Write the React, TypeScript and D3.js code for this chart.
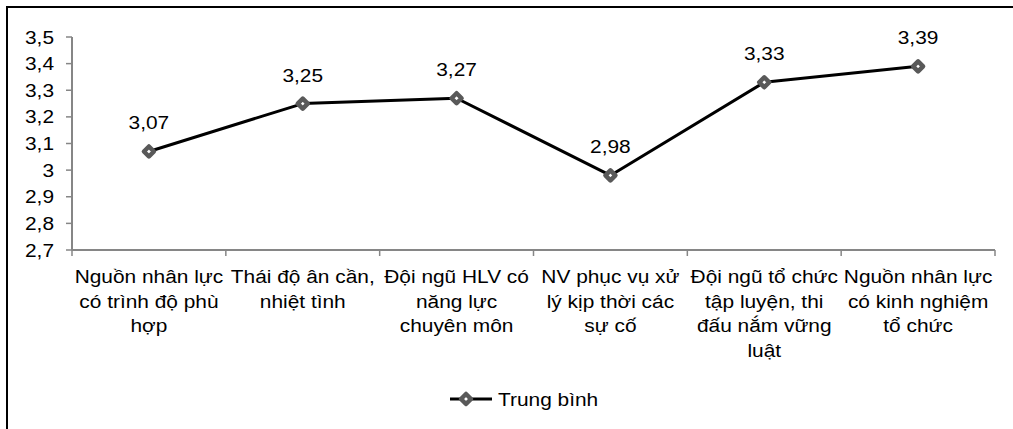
import React, { useEffect, useRef } from 'react';
import * as d3 from 'd3';

const categories = [
  ['Nguồn nhân lực', 'có trình độ phù', 'hợp'],
  ['Thái độ ân cần,', 'nhiệt tình'],
  ['Đội ngũ HLV có', 'năng lực', 'chuyên môn'],
  ['NV phục vụ xử', 'lý kịp thời các', 'sự cố'],
  ['Đội ngũ tổ chức', 'tập luyện, thi', 'đấu nắm vững', 'luật'],
  ['Nguồn nhân lực', 'có kinh nghiệm', 'tổ chức'],
];
const values = [3.07, 3.25, 3.27, 2.98, 3.33, 3.39];
const yTicks = [2.7, 2.8, 2.9, 3.0, 3.1, 3.2, 3.3, 3.4, 3.5];
const seriesName = 'Trung bình';

const width = 1013;
const height = 429;
const font = 'Arial, "Liberation Sans", sans-serif';
const sx = 1.16; // text in the picture is a little stretched horizontally

const fmt = (v: number) => String(+v.toFixed(2)).replace('.', ',');

const diamond = 'M0,-5L5,0L0,5L-5,0Z';

const App = () => {
  const ref = useRef<SVGSVGElement | null>(null);

  useEffect(() => {
    if (!ref.current) return;
    const svg = d3.select(ref.current);
    svg.selectAll('*').remove();

    const m = { l: 72, r: 995, t: 37, b: 250 };

    const x = d3
      .scaleBand<number>()
      .domain(categories.map((d, i) => i))
      .range([m.l, m.r]);
    const y = d3.scaleLinear().domain([2.7, 3.5]).range([m.b, m.t]);
    const cx = (i: number) => (x(i) as number) + x.bandwidth() / 2;

    // outer border (right and bottom are cut off in the picture)
    svg.append('rect')
      .attr('x', 7)
      .attr('y', 7)
      .attr('width', 1040)
      .attr('height', 460)
      .attr('fill', '#fff')
      .attr('stroke', '#000')
      .attr('stroke-width', 2);

    const axisColor = '#868686';

    // y axis
    svg.append('line')
      .attr('x1', m.l).attr('x2', m.l)
      .attr('y1', y(3.5)).attr('y2', y(2.7))
      .attr('stroke', axisColor).attr('stroke-width', 2);
    svg.selectAll('.ytick')
      .data(yTicks)
      .join('line')
      .attr('class', 'ytick')
      .attr('x1', m.l - 6).attr('x2', m.l)
      .attr('y1', d => y(d)).attr('y2', d => y(d))
      .attr('stroke', axisColor).attr('stroke-width', 1.5);
    svg.selectAll('.ylab')
      .data(yTicks)
      .join('text')
      .attr('class', 'ylab')
      .attr('transform', d => `translate(54,${y(d) + 6.5}) scale(${sx},1)`)
      .attr('text-anchor', 'end')
      .attr('font-family', font)
      .attr('font-size', 18)
      .attr('fill', '#000')
      .text(d => fmt(d));

    // x axis
    svg.append('line')
      .attr('x1', m.l).attr('x2', m.r)
      .attr('y1', m.b).attr('y2', m.b)
      .attr('stroke', axisColor).attr('stroke-width', 2);
    const bounds = categories.map((d, i) => x(i) as number).concat([m.r]);
    svg.selectAll('.xtick')
      .data(bounds)
      .join('line')
      .attr('class', 'xtick')
      .attr('x1', d => d).attr('x2', d => d)
      .attr('y1', m.b).attr('y2', m.b + 6)
      .attr('stroke', axisColor).attr('stroke-width', 1.5);

    const xlab = svg.selectAll('.xlab')
      .data(categories)
      .join('text')
      .attr('class', 'xlab')
      .attr('transform', (d, i) => `translate(${cx(i)},283) scale(${sx},1)`)
      .attr('text-anchor', 'middle')
      .attr('font-family', font)
      .attr('font-size', 18)
      .attr('fill', '#000');
    xlab.selectAll('tspan')
      .data(d => d)
      .join('tspan')
      .attr('x', 0)
      .attr('dy', (d, i) => (i === 0 ? 0 : 24.7))
      .text(d => d);

    // line
    const line = d3
      .line<number>()
      .x((d, i) => cx(i))
      .y(d => y(d));
    svg.append('path')
      .datum(values)
      .attr('d', line)
      .attr('fill', 'none')
      .attr('stroke', '#000')
      .attr('stroke-width', 3)
      .attr('stroke-linejoin', 'round');

    svg.selectAll('.marker')
      .data(values)
      .join('path')
      .attr('class', 'marker')
      .attr('d', diamond)
      .attr('transform', (d, i) => `translate(${cx(i)},${y(d)})`)
      .attr('fill', '#fff')
      .attr('stroke', '#595959')
      .attr('stroke-width', 4.5)
      .attr('stroke-linejoin', 'round');

    svg.selectAll('.dlab')
      .data(values)
      .join('text')
      .attr('class', 'dlab')
      .attr('transform', (d, i) => `translate(${cx(i)},${y(d) - 22}) scale(${sx},1)`)
      .attr('text-anchor', 'middle')
      .attr('font-family', font)
      .attr('font-size', 18)
      .attr('fill', '#000')
      .text(d => fmt(d));

    // legend
    const lg = svg.append('g').attr('transform', 'translate(450,399)');
    lg.append('line')
      .attr('x1', 0).attr('x2', 42)
      .attr('y1', 0).attr('y2', 0)
      .attr('stroke', '#000').attr('stroke-width', 3);
    lg.append('path')
      .attr('d', diamond)
      .attr('transform', 'translate(16,0)')
      .attr('fill', '#fff')
      .attr('stroke', '#595959')
      .attr('stroke-width', 4.5)
      .attr('stroke-linejoin', 'round');
    lg.append('text')
      .attr('transform', `translate(48,6.5) scale(${sx},1)`)
      .attr('font-family', font)
      .attr('font-size', 18)
      .attr('fill', '#000')
      .text(seriesName);
  }, []);

  return (
    <svg
      ref={ref}
      width={width}
      height={height}
      style={{ position: 'absolute', left: 0, top: 0, background: '#fff' }}
    />
  );
};

export default App;
